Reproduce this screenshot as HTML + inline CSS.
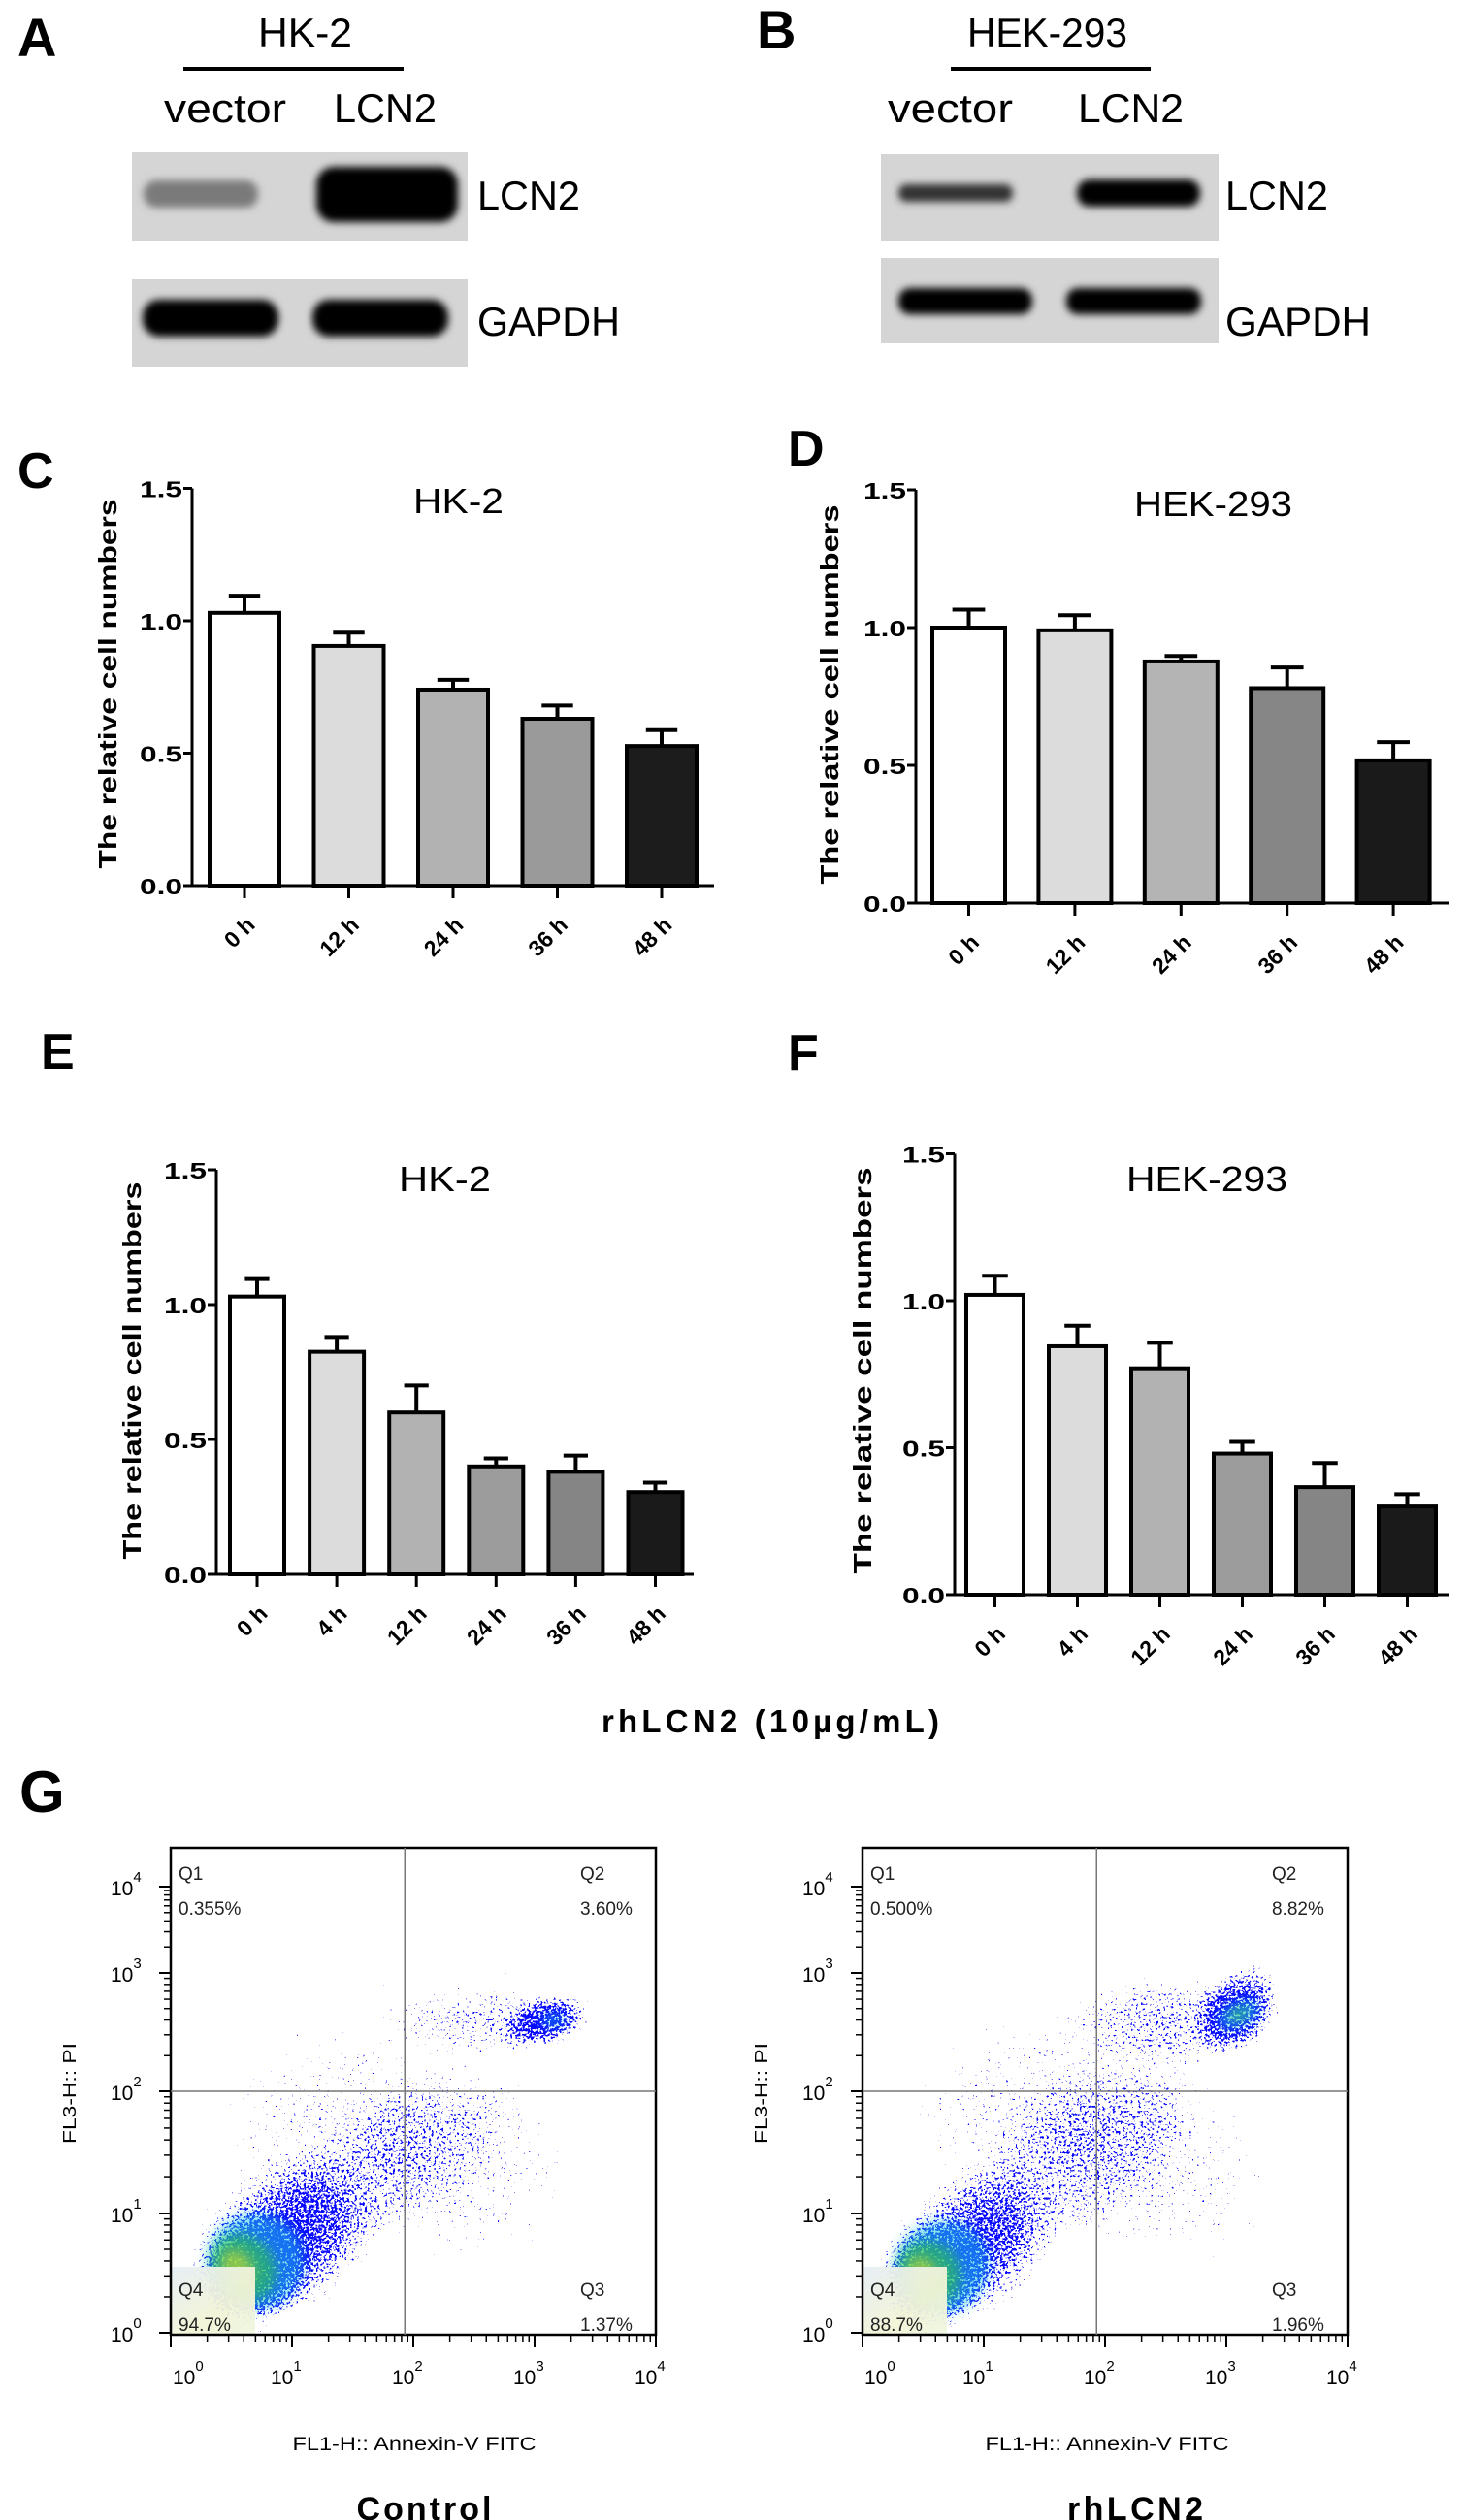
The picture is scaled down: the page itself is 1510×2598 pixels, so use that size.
<!DOCTYPE html>
<html><head><meta charset="utf-8"><title>LCN2 figure</title>
<style>
html,body{margin:0;padding:0;background:#fff;}
svg{display:block;font-family:"Liberation Sans",Arial,sans-serif;}
</style></head>
<body>
<svg id="fig" xmlns="http://www.w3.org/2000/svg" width="1510" height="2598" viewBox="0 0 1510 2598">
<defs>
  <filter id="blur4" x="-30%" y="-60%" width="160%" height="220%"><feGaussianBlur stdDeviation="4"/></filter>
  <filter id="blur6" x="-50%" y="-50%" width="200%" height="200%"><feGaussianBlur stdDeviation="6"/></filter>
  <filter id="spkL" filterUnits="userSpaceOnUse" x="176" y="1905" width="500" height="502" color-interpolation-filters="sRGB">
    <feTurbulence type="fractalNoise" baseFrequency="0.38" numOctaves="2" seed="4" result="n"/>
    <feColorMatrix in="n" type="matrix" values="0 0 0 0 0  0 0 0 0 0  0 0 0 0 0  1 0 0 0 0" result="na"/>
    <feComposite in="SourceAlpha" in2="na" operator="arithmetic" k1="0" k2="0.7" k3="1" k4="-0.1" result="s"/>
    <feComponentTransfer in="s" result="t"><feFuncA type="discrete" tableValues="0 0 0 0 0 0 0 0 0 0 0 0 0 0 0 0 0 0 1 1"/></feComponentTransfer>
    <feFlood flood-color="#0a0aff"/>
    <feComposite in2="t" operator="in"/>
  </filter>
  <filter id="spkR" filterUnits="userSpaceOnUse" x="176" y="1905" width="505" height="502" color-interpolation-filters="sRGB">
    <feTurbulence type="fractalNoise" baseFrequency="0.38" numOctaves="2" seed="11" result="n"/>
    <feColorMatrix in="n" type="matrix" values="0 0 0 0 0  0 0 0 0 0  0 0 0 0 0  1 0 0 0 0" result="na"/>
    <feComposite in="SourceAlpha" in2="na" operator="arithmetic" k1="0" k2="0.7" k3="1" k4="-0.1" result="s"/>
    <feComponentTransfer in="s" result="t"><feFuncA type="discrete" tableValues="0 0 0 0 0 0 0 0 0 0 0 0 0 0 0 0 0 0 1 1"/></feComponentTransfer>
    <feFlood flood-color="#0a0aff"/>
    <feComposite in2="t" operator="in"/>
  </filter>
  <radialGradient id="dens"><stop offset="0" stop-color="#fff" stop-opacity="1"/><stop offset="0.55" stop-color="#fff" stop-opacity="0.7"/><stop offset="1" stop-color="#fff" stop-opacity="0"/></radialGradient>
  <clipPath id="boxClip"><rect x="177" y="1906" width="498" height="500"/></clipPath>
  <linearGradient id="q4bg" x1="0" y1="0" x2="1" y2="1"><stop offset="0" stop-color="#e6eef6"/><stop offset="0.6" stop-color="#f2f4d6"/><stop offset="1" stop-color="#eef6e0"/></linearGradient>
</defs>

<!-- Panel letters -->
<g font-weight="bold" font-size="52" fill="#000">
  <text x="18" y="58" font-size="56">A</text>
  <text x="780" y="50" font-size="56">B</text>
  <text x="18" y="503">C</text>
  <text x="812" y="480">D</text>
  <text x="42" y="1102">E</text>
  <text x="812" y="1103">F</text>
  <text x="20" y="1868" font-size="60">G</text>
</g>

<!-- Western blots A -->
<g>
  <text x="266" y="48" font-size="42" textLength="97" lengthAdjust="spacingAndGlyphs">HK-2</text>
  <rect x="189" y="69" width="227" height="4" fill="#000"/>
  <text x="169" y="126" font-size="42" textLength="126" lengthAdjust="spacingAndGlyphs">vector</text>
  <text x="344" y="126" font-size="42" textLength="106" lengthAdjust="spacingAndGlyphs">LCN2</text>
  <rect x="136" y="157" width="346" height="91" fill="#d5d5d5"/>
  <rect x="148" y="186" width="118" height="28" rx="13" fill="#7a7a7a" filter="url(#blur4)"/>
  <rect x="326" y="172" width="146" height="57" rx="18" fill="#000" filter="url(#blur4)"/>
  <rect x="136" y="288" width="346" height="90" fill="#d5d5d5"/>
  <rect x="147" y="309" width="140" height="38" rx="17" fill="#000" filter="url(#blur4)"/>
  <rect x="322" y="309" width="140" height="38" rx="17" fill="#000" filter="url(#blur4)"/>
  <text x="492" y="216" font-size="42" textLength="106" lengthAdjust="spacingAndGlyphs">LCN2</text>
  <text x="492" y="346" font-size="42" textLength="147" lengthAdjust="spacingAndGlyphs">GAPDH</text>
</g>
<!-- Western blots B -->
<g>
  <text x="997" y="48" font-size="42" textLength="165" lengthAdjust="spacingAndGlyphs">HEK-293</text>
  <rect x="980" y="69" width="206" height="4" fill="#000"/>
  <text x="915" y="126" font-size="42" textLength="129" lengthAdjust="spacingAndGlyphs">vector</text>
  <text x="1111" y="126" font-size="42" textLength="109" lengthAdjust="spacingAndGlyphs">LCN2</text>
  <rect x="908" y="159" width="348" height="89" fill="#d5d5d5"/>
  <rect x="926" y="190" width="118" height="18" rx="8" fill="#333" filter="url(#blur4)"/>
  <rect x="1110" y="185" width="127" height="28" rx="13" fill="#000" filter="url(#blur4)"/>
  <rect x="908" y="266" width="348" height="88" fill="#d5d5d5"/>
  <rect x="926" y="297" width="138" height="27" rx="12" fill="#000" filter="url(#blur4)"/>
  <rect x="1099" y="297" width="139" height="27" rx="12" fill="#000" filter="url(#blur4)"/>
  <text x="1263" y="216" font-size="42" textLength="106" lengthAdjust="spacingAndGlyphs">LCN2</text>
  <text x="1263" y="346" font-size="42" textLength="150" lengthAdjust="spacingAndGlyphs">GAPDH</text>
</g>

<!-- Chart titles and axis titles -->
<text x="426" y="529" font-size="36" textLength="93" lengthAdjust="spacingAndGlyphs">HK-2</text>
<text x="1169" y="532" font-size="36" textLength="163" lengthAdjust="spacingAndGlyphs">HEK-293</text>
<text x="411" y="1228" font-size="36" textLength="95" lengthAdjust="spacingAndGlyphs">HK-2</text>
<text x="1161" y="1228" font-size="36" textLength="166" lengthAdjust="spacingAndGlyphs">HEK-293</text>
<g font-weight="bold" font-size="26" text-anchor="middle" fill="#000">
  <text transform="translate(120,705) rotate(-90)" textLength="381" lengthAdjust="spacingAndGlyphs">The  relative cell numbers</text>
  <text transform="translate(864,716) rotate(-90)" textLength="391" lengthAdjust="spacingAndGlyphs">The  relative cell numbers</text>
  <text transform="translate(145,1413) rotate(-90)" textLength="389" lengthAdjust="spacingAndGlyphs">The  relative cell numbers</text>
  <text transform="translate(898,1413) rotate(-90)" textLength="419" lengthAdjust="spacingAndGlyphs">The  relative cell numbers</text>
</g>
<text x="620" y="1786" font-size="33" font-weight="bold" textLength="348" lengthAdjust="spacing">rhLCN2 (10µg/mL)</text>

<!-- Flow cytometry captions -->
<g fill="#000">
  <text transform="translate(78,2158) rotate(-90)" text-anchor="middle" font-size="18" textLength="104" lengthAdjust="spacingAndGlyphs">FL3-H:: PI</text>
  <text x="427" y="2526" text-anchor="middle" font-size="19" textLength="251" lengthAdjust="spacingAndGlyphs">FL1-H:: Annexin-V FITC</text>
  <text x="437" y="2598" text-anchor="middle" font-size="34" font-weight="bold" textLength="139" lengthAdjust="spacing">Control</text>
  <text transform="translate(791,2158) rotate(-90)" text-anchor="middle" font-size="18" textLength="104" lengthAdjust="spacingAndGlyphs">FL3-H:: PI</text>
  <text x="1141" y="2526" text-anchor="middle" font-size="19" textLength="251" lengthAdjust="spacingAndGlyphs">FL1-H:: Annexin-V FITC</text>
  <text x="1170" y="2598" text-anchor="middle" font-size="34" font-weight="bold" textLength="140" lengthAdjust="spacing">rhLCN2</text>
</g>

<g id="charts"></g>
</svg>

<script>
// ---------- Bar chart data ----------
const cCats = ['0 h','12 h','24 h','36 h','48 h'];
const cVals = [1.03, 0.905, 0.74, 0.63, 0.527];
const cErrs = [0.065, 0.05, 0.037, 0.05, 0.06];
const dCats = ['0 h','12 h','24 h','36 h','48 h'];
const dVals = [1.0, 0.99, 0.877, 0.78, 0.518];
const dErrs = [0.065, 0.055, 0.02, 0.075, 0.066];
const eCats = ['0 h','4 h','12 h','24 h','36 h','48 h'];
const eVals = [1.03, 0.825, 0.60, 0.40, 0.38, 0.305];
const eErrs = [0.065, 0.055, 0.10, 0.03, 0.06, 0.035];
const fCats = ['0 h','4 h','12 h','24 h','36 h','48 h'];
const fVals = [1.02, 0.845, 0.77, 0.48, 0.366, 0.30];
const fErrs = [0.065, 0.07, 0.087, 0.04, 0.082, 0.042];
const yTicks = [0, 0.5, 1.0, 1.5];
const yTickLabels = ['0.0', '0.5', '1.0', '1.5'];

// ---------- Flow cytometry data ----------
const quadNames = ['Q1', 'Q2', 'Q3', 'Q4'];
const ctrlQuadPct = ['0.355%', '3.60%', '1.37%', '94.7%'];
const rhQuadPct = ['0.500%', '8.82%', '1.96%', '88.7%'];
const decadeTicks = [0, 1, 2, 3, 4];
const gateLog = [1.93, 2.0];
// density populations [centerLogX, centerLogY, spreadX, spreadY, angle, density]
const ctrlPops = [
  [0.85, 0.7, 1.05, 0.72, -35, 0.82],
  [0.7, 0.55, 0.55, 0.45, -40, 0.95],
  [1.8, 1.4, 1.4, 0.6, -35, 0.36],
  [1.2, 1.8, 1.2, 0.8, -20, 0.28],
  [2.6, 2.6, 1.0, 0.35, 0, 0.42],
  [3.1, 2.6, 0.42, 0.22, -15, 0.82],
  [2.5, 1.3, 1.1, 0.9, 0, 0.28],
  [2.0, 2.0, 2.2, 2.2, 0, 0.2]
];
const ctrlCores = [
  [0.7, 0.6, 0.4, 0.4, -40, '#20c8e8'],
  [0.6, 0.55, 0.25, 0.3, -40, '#30d030'],
  [0.55, 0.55, 0.12, 0.16, -40, '#e0e020'],
  [3.15, 2.6, 0.1, 0.05, 0, '#20c8e8']
];
const rhPops = [
  [0.8, 0.65, 1.0, 0.68, -38, 0.82],
  [0.6, 0.5, 0.5, 0.42, -40, 0.95],
  [1.8, 1.5, 1.4, 0.65, -40, 0.4],
  [1.2, 1.9, 1.1, 0.8, -20, 0.28],
  [2.5, 2.6, 1.0, 0.4, 0, 0.46],
  [3.1, 2.7, 0.48, 0.34, -50, 0.85],
  [2.5, 1.3, 1.1, 0.9, 0, 0.28],
  [2.0, 2.0, 2.2, 2.2, 0, 0.2]
];
const rhCores = [
  [0.65, 0.55, 0.4, 0.38, -40, '#20c8e8'],
  [0.55, 0.5, 0.25, 0.28, -40, '#30d030'],
  [0.5, 0.5, 0.11, 0.15, -40, '#e0e020'],
  [3.1, 2.65, 0.18, 0.1, -25, '#20c8e8'],
  [3.1, 2.65, 0.09, 0.05, -25, '#40d040']
];

const NS = 'http://www.w3.org/2000/svg';
const root = document.getElementById('charts');
function mk(tag, attrs, parent) {
  const n = document.createElementNS(NS, tag);
  for (const k in attrs) n.setAttribute(k, attrs[k]);
  parent.appendChild(n);
  return n;
}

function barChart(name, cats, vals, errs, fills, cfg) {
  const g = mk('g', {}, root);
  
  
  const ys = v => cfg.y0 - v * cfg.unit;
  const xs = i => cfg.c0 + i * cfg.step;
  vals.forEach((v, i) => {
    const top = ys(v);
    const eb = mk('line', {x1: xs(i), x2: xs(i), y1: top, y2: ys(v + errs[i]), stroke: '#000', 'stroke-width': 4}, g);
    
    
    const cw = cfg.bw * 0.45;
    const cap = mk('line', {x1: xs(i) - cw / 2, x2: xs(i) + cw / 2, y1: ys(v + errs[i]), y2: ys(v + errs[i]), stroke: '#000', 'stroke-width': 4}, g);
    
    
    const b = mk('rect', {x: xs(i) - cfg.bw / 2, y: top, width: cfg.bw, height: cfg.y0 - top, fill: fills[i], stroke: '#000', 'stroke-width': 4}, g);
    
    
  });
  const ya = mk('line', {x1: cfg.x0, x2: cfg.x0, y1: ys(1.5), y2: cfg.y0, stroke: '#000', 'stroke-width': 3}, g);
  
  
  const xa = mk('line', {x1: cfg.x0 - 1, x2: cfg.xEnd, y1: cfg.y0, y2: cfg.y0, stroke: '#000', 'stroke-width': 3}, g);
  
  
  yTicks.forEach((t, i) => {
    const tk = mk('line', {x1: cfg.x0 - 9, x2: cfg.x0, y1: ys(t), y2: ys(t), stroke: '#000', 'stroke-width': 3}, g);
    
    
    const lb = mk('text', {x: cfg.x0 - 10, y: ys(t) + 9, 'text-anchor': 'end', 'font-size': 23, 'font-weight': 'bold', textLength: 44, lengthAdjust: 'spacingAndGlyphs'}, g);
    lb.textContent = yTickLabels[i];
    
    
  });
  cats.forEach((c, i) => {
    const tk = mk('line', {x1: xs(i), x2: xs(i), y1: cfg.y0, y2: cfg.y0 + 13, stroke: '#000', 'stroke-width': 3}, g);
    
    
    const lx = xs(i) + 12, ly = cfg.y0 + 42;
    const lb = mk('text', {x: lx, y: ly, 'text-anchor': 'end', 'font-size': 23, 'font-weight': 'bold', transform: 'rotate(-45 ' + lx + ' ' + ly + ')'}, g);
    lb.textContent = c;
    
    
  });
}

barChart('chart-c-hk2-lcn2', cCats, cVals, cErrs, ['#ffffff', '#dcdcdc', '#b2b2b2', '#9a9a9a', '#1c1c1c'],
  {x0: 198, y0: 913, unit: 273, c0: 252, step: 107.5, bw: 72, xEnd: 736});
barChart('chart-d-hek293-lcn2', dCats, dVals, dErrs, ['#ffffff', '#dcdcdc', '#b4b4b4', '#868686', '#1a1a1a'],
  {x0: 944, y0: 931, unit: 284, c0: 998.5, step: 109.4, bw: 75, xEnd: 1494});
barChart('chart-e-hk2-rhlcn2', eCats, eVals, eErrs, ['#ffffff', '#dcdcdc', '#b2b2b2', '#9c9c9c', '#858585', '#1a1a1a'],
  {x0: 223, y0: 1623, unit: 278, c0: 265, step: 82.1, bw: 56, xEnd: 715});
barChart('chart-f-hek293-rhlcn2', fCats, fVals, fErrs, ['#ffffff', '#dcdcdc', '#b2b2b2', '#9c9c9c', '#858585', '#1a1a1a'],
  {x0: 984, y0: 1644, unit: 303, c0: 1025.5, step: 85, bw: 59, xEnd: 1493});

// ---------- Flow plots ----------
const yDecPx = [2405, 2282, 2156, 2034, 1945];
function xF(l) { return 176 + l * 125; }
function yF(l) {
  const i = Math.max(0, Math.min(3, Math.floor(l)));
  return yDecPx[i] + (l - i) * (yDecPx[i + 1] - yDecPx[i]);
}

function flowPlot(name, dx, pcts, pops, cores, filt) {
  const g = mk('g', {transform: 'translate(' + dx + ',0)'}, root);
  
  
  const clip = mk('g', {'clip-path': 'url(#boxClip)'}, g);
  const dens = mk('g', {filter: 'url(#' + filt + ')'}, clip);
  
  
  pops.forEach(p => {
    const cx = xF(p[0]), cy = yF(p[1]);
    const e = mk('ellipse', {cx: cx, cy: cy, rx: p[2] * 125, ry: p[3] * 123, fill: 'url(#dens)', 'fill-opacity': p[5], transform: 'rotate(' + p[4] + ' ' + cx + ' ' + cy + ')'}, dens);
    
    
  });
  cores.forEach(c => {
    const cx = xF(c[0]), cy = yF(c[1]);
    const e = mk('ellipse', {cx: cx, cy: cy, rx: c[2] * 125, ry: c[3] * 123, fill: c[5], opacity: 0.55, filter: 'url(#blur6)', transform: 'rotate(' + c[4] + ' ' + cx + ' ' + cy + ')'}, clip);
    
    
  });
  const q4 = mk('rect', {x: 177, y: 2337, width: 86, height: 69, fill: 'url(#q4bg)', opacity: 0.95}, clip);
  
  
  const box = mk('rect', {x: 176, y: 1905, width: 500, height: 502, fill: 'none', stroke: '#000', 'stroke-width': 2.5}, g);
  
  
  const vg = mk('line', {x1: xF(gateLog[0]), x2: xF(gateLog[0]), y1: 1905, y2: 2407, stroke: '#777', 'stroke-width': 1.5}, g);
  
  
  const hg = mk('line', {x1: 176, x2: 676, y1: yF(gateLog[1]), y2: yF(gateLog[1]), stroke: '#777', 'stroke-width': 1.5}, g);
  
  
  decadeTicks.forEach(d => {
    const tx = mk('line', {x1: xF(d), x2: xF(d), y1: 2407, y2: 2420, stroke: '#000', 'stroke-width': 2}, g);
    
    
    const ty = mk('line', {x1: 164, x2: 176, y1: yF(d), y2: yF(d), stroke: '#000', 'stroke-width': 2}, g);
    
    
    const lx = mk('text', {x: xF(d) + (d === 0 ? 24 : 0) - 22, y: 2458, 'font-size': 21}, g);
    lx.textContent = '10';
    const sx = mk('tspan', {dy: -14, 'font-size': 15}, lx);
    sx.textContent = String(d);
    
    
    const ly = mk('text', {x: 114, y: yF(d) + 9, 'font-size': 21}, g);
    ly.textContent = '10';
    const sy = mk('tspan', {dy: -14, 'font-size': 15}, ly);
    sy.textContent = String(d);
    
    
    if (d < 4) {
      for (let m = 2; m <= 9; m++) {
        const l = d + Math.log10(m);
        const mx = mk('line', {x1: xF(l), x2: xF(l), y1: 2407, y2: 2414, stroke: '#000', 'stroke-width': 1.5}, g);
        
        
        const my = mk('line', {x1: 169, x2: 176, y1: yF(l), y2: yF(l), stroke: '#000', 'stroke-width': 1.5}, g);
        
        
      }
    }
  });
  const qpos = [[184, 1938], [598, 1938], [598, 2367], [184, 2367]];
  quadNames.forEach((q, i) => {
    const t = mk('text', {x: qpos[i][0], y: qpos[i][1], 'font-size': 19, fill: '#222'}, g);
    t.textContent = q;
    
    
    const p = mk('text', {x: qpos[i][0], y: qpos[i][1] + 36, 'font-size': 19, fill: '#222'}, g);
    p.textContent = pcts[i];
    
    
  });
}
flowPlot('flow-plot-control', 0, ctrlQuadPct, ctrlPops, ctrlCores, 'spkL');
flowPlot('flow-plot-rhlcn2', 713, rhQuadPct, rhPops, rhCores, 'spkR');
</script>
</body></html>
